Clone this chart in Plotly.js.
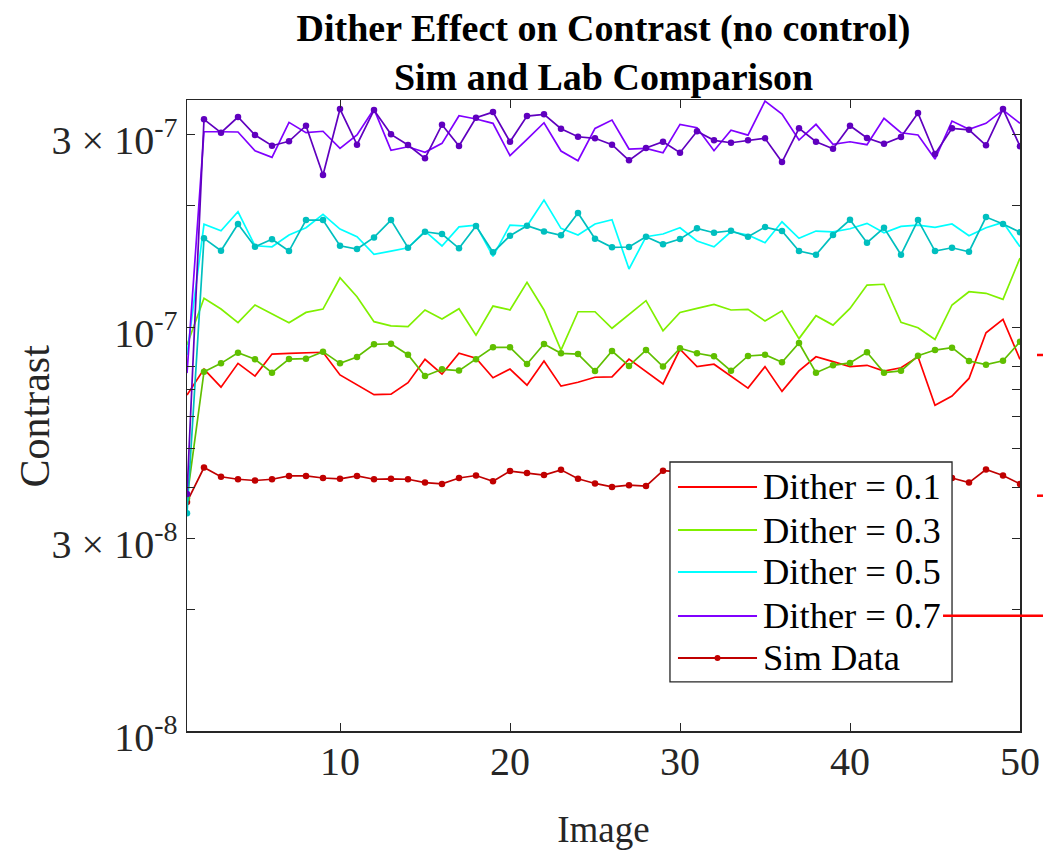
<!DOCTYPE html>
<html>
<head>
<meta charset="utf-8">
<script src="https://cdn.plot.ly/plotly-3.0.1.min.js"></script>
<style>html,body{margin:0;padding:0;background:#fff;}#chart{width:1043px;height:850px;}</style>
</head>
<body>
<div id="chart"></div>
<script>
// ---------- data ----------
const images = [1,2,3,4,5,6,7,8,9,10,11,12,13,14,15,16,17,18,19,20,21,22,23,24,25,26,27,28,29,30,31,32,33,34,35,36,37,38,39,40,41,42,43,44,45,46,47,48,49,50];

// lab measurements (lines, no markers)
const labDither01 = [6.79e-8,7.87e-8,7.10e-8,8.13e-8,7.56e-8,8.57e-8,8.61e-8,8.62e-8,8.66e-8,7.61e-8,7.21e-8,6.80e-8,6.82e-8,7.28e-8,8.32e-8,7.65e-8,8.61e-8,8.37e-8,7.49e-8,7.87e-8,7.18e-8,8.24e-8,7.14e-8,7.30e-8,7.51e-8,7.53e-8,8.33e-8,7.78e-8,7.23e-8,8.81e-8,7.98e-8,8.09e-8,7.56e-8,7.06e-8,7.98e-8,6.93e-8,7.79e-8,8.44e-8,8.21e-8,7.98e-8,8.04e-8,7.78e-8,7.93e-8,8.44e-8,6.40e-8,6.75e-8,7.46e-8,9.68e-8,1.045e-7,8.32e-8];
const labDither03 = [9.03e-8,1.178e-7,1.108e-7,1.025e-7,1.134e-7,1.077e-7,1.025e-7,1.087e-7,1.108e-7,1.324e-7,1.189e-7,1.031e-7,1.007e-7,1.002e-7,1.102e-7,1.047e-7,1.110e-7,9.55e-8,1.127e-7,1.102e-7,1.290e-7,1.102e-7,8.77e-8,1.091e-7,1.091e-7,9.93e-8,1.075e-7,1.162e-7,9.79e-8,1.087e-7,1.112e-7,1.138e-7,1.102e-7,1.106e-7,1.035e-7,1.097e-7,9.36e-8,1.067e-7,1.011e-7,1.112e-7,1.270e-7,1.276e-7,1.027e-7,9.96e-8,9.32e-8,1.134e-7,1.223e-7,1.212e-7,1.171e-7,1.482e-7];
const labDither05 = [8.53e-8,1.796e-7,1.731e-7,1.929e-7,1.589e-7,1.580e-7,1.690e-7,1.761e-7,1.901e-7,1.748e-7,1.673e-7,1.514e-7,1.542e-7,1.571e-7,1.728e-7,1.587e-7,1.770e-7,1.788e-7,1.496e-7,1.788e-7,1.778e-7,2.063e-7,1.755e-7,1.690e-7,1.799e-7,1.843e-7,1.392e-7,1.673e-7,1.699e-7,1.761e-7,1.633e-7,1.580e-7,1.721e-7,1.690e-7,1.617e-7,1.822e-7,1.658e-7,1.728e-7,1.721e-7,1.751e-7,1.806e-7,1.712e-7,1.775e-7,1.788e-7,1.765e-7,1.799e-7,1.683e-7,1.761e-7,1.816e-7,1.580e-7];
const labDither07 = [7.69e-8,3.044e-7,3.044e-7,3.039e-7,2.732e-7,2.630e-7,3.211e-7,3.027e-7,3.052e-7,2.769e-7,2.988e-7,3.464e-7,2.738e-7,2.794e-7,2.707e-7,2.849e-7,3.334e-7,3.273e-7,3.193e-7,2.655e-7,2.915e-7,3.204e-7,2.727e-7,2.580e-7,3.103e-7,3.254e-7,2.758e-7,2.769e-7,2.701e-7,3.175e-7,3.114e-7,2.732e-7,3.069e-7,2.985e-7,3.625e-7,3.367e-7,2.903e-7,3.175e-7,2.833e-7,2.875e-7,2.827e-7,3.285e-7,3.027e-7,2.988e-7,2.605e-7,3.235e-7,3.086e-7,3.193e-7,3.444e-7,3.193e-7];

// simulation (lines with dot markers)
const simDither01 = [3.69e-8,4.49e-8,4.26e-8,4.20e-8,4.17e-8,4.20e-8,4.28e-8,4.28e-8,4.23e-8,4.21e-8,4.28e-8,4.20e-8,4.21e-8,4.20e-8,4.12e-8,4.09e-8,4.23e-8,4.29e-8,4.15e-8,4.40e-8,4.35e-8,4.30e-8,4.43e-8,4.21e-8,4.10e-8,4.02e-8,4.06e-8,4.04e-8,4.41e-8,4.38e-8,4.30e-8,4.25e-8,4.28e-8,4.21e-8,4.26e-8,4.32e-8,4.24e-8,4.19e-8,4.27e-8,4.31e-8,4.23e-8,4.20e-8,4.26e-8,4.29e-8,4.24e-8,4.23e-8,4.12e-8,4.44e-8,4.29e-8,4.09e-8];
const simDither03 = [3.77e-8,7.75e-8,8.13e-8,8.64e-8,8.32e-8,7.71e-8,8.33e-8,8.35e-8,8.69e-8,8.13e-8,8.43e-8,9.06e-8,9.09e-8,8.54e-8,7.56e-8,7.86e-8,7.80e-8,8.32e-8,8.91e-8,8.91e-8,8.10e-8,9.08e-8,8.61e-8,8.57e-8,7.78e-8,8.72e-8,8.01e-8,8.77e-8,7.98e-8,8.86e-8,8.61e-8,8.46e-8,7.79e-8,8.48e-8,8.54e-8,8.18e-8,9.13e-8,7.71e-8,8.04e-8,8.15e-8,8.66e-8,7.71e-8,7.79e-8,8.49e-8,8.77e-8,8.89e-8,8.24e-8,8.07e-8,8.25e-8,9.20e-8];
const simDither05 = [3.46e-8,1.658e-7,1.545e-7,1.799e-7,1.580e-7,1.649e-7,1.542e-7,1.840e-7,1.840e-7,1.589e-7,1.560e-7,1.667e-7,1.840e-7,1.571e-7,1.721e-7,1.699e-7,1.566e-7,1.778e-7,1.531e-7,1.683e-7,1.781e-7,1.725e-7,1.687e-7,1.915e-7,1.654e-7,1.575e-7,1.578e-7,1.673e-7,1.602e-7,1.651e-7,1.755e-7,1.712e-7,1.731e-7,1.673e-7,1.768e-7,1.728e-7,1.542e-7,1.510e-7,1.690e-7,1.843e-7,1.617e-7,1.761e-7,1.510e-7,1.840e-7,1.542e-7,1.571e-7,1.536e-7,1.872e-7,1.799e-7,1.716e-7];
const simDither07 = [3.86e-8,3.267e-7,3.027e-7,3.310e-7,2.988e-7,2.811e-7,2.882e-7,3.150e-7,2.378e-7,3.464e-7,2.827e-7,3.444e-7,2.999e-7,2.822e-7,2.616e-7,3.168e-7,2.806e-7,3.297e-7,3.405e-7,2.875e-7,3.329e-7,3.362e-7,3.096e-7,2.958e-7,2.932e-7,2.827e-7,2.586e-7,2.774e-7,2.875e-7,2.701e-7,3.051e-7,2.898e-7,2.859e-7,2.900e-7,2.932e-7,2.561e-7,3.103e-7,2.875e-7,2.763e-7,3.150e-7,2.937e-7,2.842e-7,2.953e-7,3.386e-7,2.681e-7,3.103e-7,3.078e-7,2.817e-7,3.464e-7,2.802e-7];

const labNames = ['Dither = 0.1','Dither = 0.3','Dither = 0.5','Dither = 0.7'];
const simName = 'Sim Data';
const legendLabels = ['Dither = 0.1','Dither = 0.3','Dither = 0.5','Dither = 0.7','Sim Data'];

const yTickVals = [1e-8, 3e-8, 1e-7, 3e-7];
const yTickText = ['10<sup>-8</sup>', '3 × 10<sup>-8</sup>', '10<sup>-7</sup>', '3 × 10<sup>-7</sup>'];
const yMinorVals = [2e-8, 4e-8, 5e-8, 6e-8, 7e-8, 8e-8, 2e-7];
const xTickVals = [10, 20, 30, 40, 50];

// ---------- styling ----------
const labColors = ['#FF0000', '#80F000', '#00FFFF', '#8000FF'];
const simColors = ['#C00000', '#60BF00', '#00BFBF', '#6000BF'];
const FONT = '"Liberation Serif", "Times New Roman", Times, serif';
const AX = '#262626';

const labSeries = [labDither01, labDither03, labDither05, labDither07];
const simSeries = [simDither01, simDither03, simDither05, simDither07];

const traces = [];
labSeries.forEach((ys, k) => {
  traces.push({
    x: images, y: ys, type: 'scatter', mode: 'lines',
    name: labNames[k],
    line: {color: labColors[k], width: 1.7}
  });
});
simSeries.forEach((ys, k) => {
  traces.push({
    x: images, y: ys, type: 'scatter', mode: 'lines+markers',
    name: simName,
    line: {color: simColors[k], width: 1.7},
    marker: {color: simColors[k], size: 6.5, symbol: 'circle'}
  });
});

// ---------- legend box drawn in paper coordinates (MATLAB-style) ----------
const legBox = {x0: 0.5798, x1: 0.9184, y0: 0.0777, y1: 0.4263};
const legRowY = [0.3867, 0.3185, 0.2520, 0.1823, 0.1157];
const legLineX = [0.5894, 0.6843];
const legTextX = 0.689;
const legColors = labColors.concat([simColors[0]]);

const shapes = [];
const annotations = [];
shapes.push({type: 'rect', xref: 'paper', yref: 'paper', x0: legBox.x0, x1: legBox.x1, y0: legBox.y0, y1: legBox.y1,
  fillcolor: '#ffffff', line: {color: AX, width: 1.3}, layer: 'above'});
legendLabels.forEach((lab, k) => {
  shapes.push({type: 'line', xref: 'paper', yref: 'paper', x0: legLineX[0], x1: legLineX[1], y0: legRowY[k], y1: legRowY[k],
    line: {color: legColors[k], width: 2}, layer: 'above'});
  annotations.push({xref: 'paper', yref: 'paper', x: legTextX, y: legRowY[k], xanchor: 'left', yanchor: 'middle',
    text: lab, showarrow: false, font: {family: FONT, size: 36.5, color: '#000000'}});
});
shapes.push({type: 'circle', xref: 'paper', yref: 'paper', xsizemode: 'pixel', ysizemode: 'pixel',
  xanchor: (legLineX[0] + legLineX[1]) / 2, yanchor: legRowY[4], x0: -3, x1: 3, y0: -3, y1: 3,
  fillcolor: simColors[0], line: {color: simColors[0], width: 0}, layer: 'above'});

// stray red strokes at the right edge of the reference figure
shapes.push({type: 'line', xref: 'paper', yref: 'paper', x0: 1.0204, x1: 1.03, y0: 0.5959, y1: 0.5959, line: {color: '#FF0000', width: 2.5}, layer: 'above'});
shapes.push({type: 'line', xref: 'paper', yref: 'paper', x0: 1.0204, x1: 1.03, y0: 0.3729, y1: 0.3729, line: {color: '#FF0000', width: 2.5}, layer: 'above'});
shapes.push({type: 'line', xref: 'paper', yref: 'paper', x0: 0.9076, x1: 1.03, y0: 0.1827, y1: 0.1827, line: {color: '#FF0000', width: 2.5}, layer: 'above'});

// y-axis title (placed as rotated text to sit where MATLAB puts it)
annotations.push({xref: 'paper', yref: 'paper', x: -0.1825, y: 0.5, xanchor: 'center', yanchor: 'middle',
  text: 'Contrast', textangle: -90, showarrow: false, font: {family: FONT, size: 42, color: AX}});

const layout = {
  width: 1043, height: 850, autosize: false,
  margin: {l: 187, r: 23, t: 100, b: 119, pad: 0},
  paper_bgcolor: '#ffffff', plot_bgcolor: '#ffffff',
  font: {family: FONT, color: AX},
  showlegend: false,
  title: {
    text: 'Dither Effect on Contrast (no control)<br>Sim and Lab Comparison',
    font: {family: FONT, size: 38, weight: 'bold', color: '#000000'},
    x: 0.5, xref: 'paper', xanchor: 'center',
    y: 0.952, yref: 'container', yanchor: 'top'
  },
  xaxis: {
    range: [1, 50], tickmode: 'array', tickvals: xTickVals,
    ticks: 'inside', ticklen: 8, tickwidth: 1, tickcolor: AX,
    showline: true, linecolor: AX, linewidth: 1.5, mirror: 'ticks',
    showgrid: false, zeroline: false,
    tickfont: {family: FONT, size: 40, color: AX},
    ticklabelstandoff: -6,
    title: {text: 'Image', font: {family: FONT, size: 37, color: AX}, standoff: 34}
  },
  yaxis: {
    type: 'log', range: [-8, -6.438], tickmode: 'array',
    tickvals: yTickVals, ticktext: yTickText,
    ticks: 'inside', ticklen: 8, tickwidth: 1, tickcolor: AX,
    minor: {tickmode: 'array', tickvals: yMinorVals, ticks: 'inside', ticklen: 8, tickwidth: 1, tickcolor: AX, showgrid: false},
    showline: true, linecolor: AX, linewidth: 1.5, mirror: 'ticks',
    showgrid: false, zeroline: false,
    tickfont: {family: FONT, size: 40, color: AX},
    ticklabelstandoff: 0, ticklabelshift: 6
  },
  shapes: shapes,
  annotations: annotations
};

Plotly.newPlot('chart', traces, layout, {displayModeBar: false, staticPlot: true});
</script>
</body>
</html>
